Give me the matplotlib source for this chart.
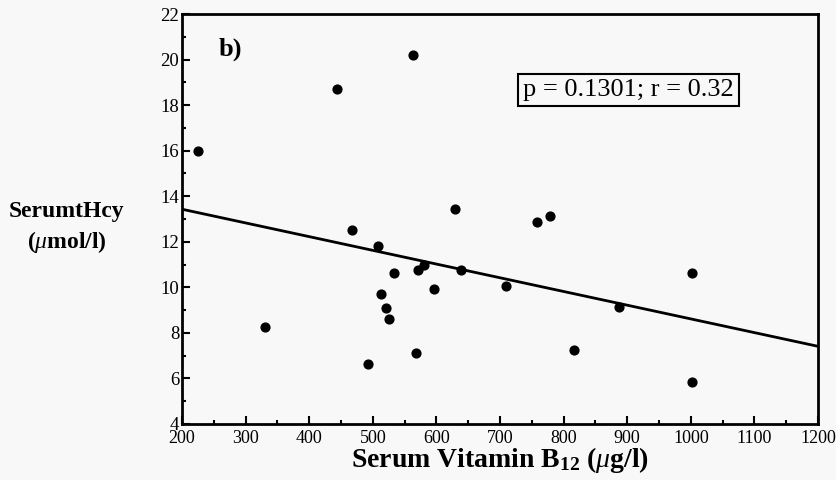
import matplotlib.pyplot as plt
from matplotlib.ticker import MultipleLocator

plt.rcParams['font.family'] = ['Liberation Serif', 'DejaVu Serif']
plt.rcParams['mathtext.fontset'] = 'custom'
plt.rcParams['mathtext.rm'] = 'Liberation Serif'
plt.rcParams['mathtext.bf'] = 'Liberation Serif:bold'
plt.rcParams['mathtext.it'] = 'Liberation Serif:italic'

# serum vitamin B12 (ug/l) vs serum tHcy (umol/l)
b12 = [225, 330, 443, 467, 492, 509, 513, 521, 526, 534, 564, 568,
       571, 581, 597, 630, 638, 709, 758, 779, 817, 887, 1002, 1002]
hcy = [16.0, 8.27, 18.7, 12.53, 6.64, 11.82, 9.69, 9.09, 8.62, 10.64, 20.2, 7.1,
       10.74, 10.99, 9.94, 13.46, 10.76, 10.06, 12.89, 13.14, 7.23, 9.12, 10.63, 5.85]

# regression line
fit_x = [200, 1200]
fit_y = [13.43, 7.41]

fig = plt.figure(figsize=(8.37, 4.8), dpi=100, facecolor='#f8f8f8')
ax = fig.add_axes([0.2174, 0.1167, 0.7599, 0.8541])
ax.set_facecolor('#f8f8f8')

ax.plot(fit_x, fit_y, color='black', lw=2)
ax.scatter(b12, hcy, s=40, color='black', zorder=3)

ax.set_xlim(200, 1200)
ax.set_ylim(4, 22)
ax.xaxis.set_major_locator(MultipleLocator(100))
ax.xaxis.set_minor_locator(MultipleLocator(50))
ax.yaxis.set_major_locator(MultipleLocator(2))
ax.yaxis.set_minor_locator(MultipleLocator(1))
ax.tick_params(which='both', direction='in', width=1.5, labelsize=13.5, pad=2)
ax.tick_params(axis='x', labelsize=13, pad=4)
ax.tick_params(which='major', length=6)
ax.tick_params(which='minor', length=3)
for s in ax.spines.values():
    s.set_linewidth(2)

ax.set_xlabel(r'Serum Vitamin B$_{\mathbf{12}}$ ($\mu$g/l)', fontsize=20,
              fontweight='bold', labelpad=-1)
fig.text(0.08, 0.525, 'SerumtHcy\n' + r'($\mu$mol/l)', fontsize=17, fontweight='bold',
         ha='center', va='center', linespacing=1.35)

ax.text(258, 20.45, 'b)', fontsize=19, fontweight='bold', va='center')
ax.text(902, 18.67, 'p = 0.1301; r = 0.32', fontsize=19, ha='center', va='center',
        bbox=dict(boxstyle='square,pad=0.2', facecolor='#f8f8f8', edgecolor='black', lw=1.5))

plt.savefig('out.png', dpi=100, facecolor=fig.get_facecolor())
